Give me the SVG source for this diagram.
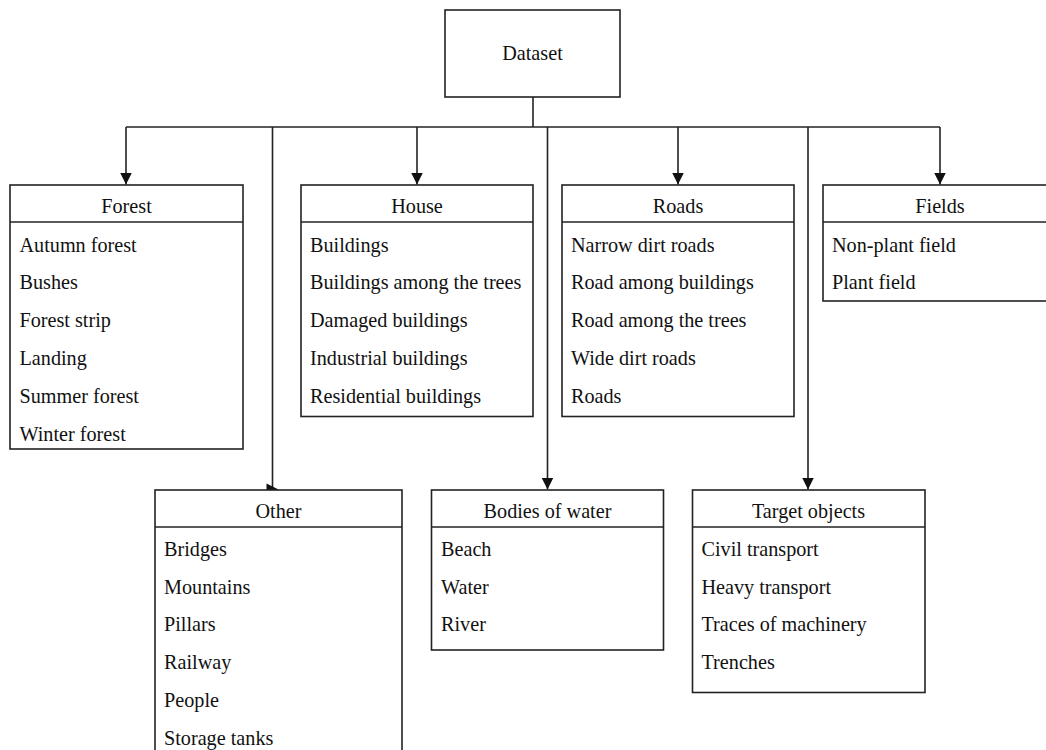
<svg xmlns="http://www.w3.org/2000/svg" width="1046" height="750" viewBox="0 0 1046 750">
<style>
.box{fill:#fff;stroke:#222;stroke-width:1.6}
.ln{fill:none;stroke:#222;stroke-width:1.6}
.hd{font-family:"Liberation Serif","Times New Roman",serif;font-size:20.2px;fill:#111;text-anchor:middle}
.it{font-family:"Liberation Serif","Times New Roman",serif;font-size:20.2px;fill:#111}
</style>
<defs>
<marker id="arr" viewBox="0 0 12 12" refX="12" refY="6" markerWidth="12" markerHeight="12" markerUnits="userSpaceOnUse" orient="auto">
<path d="M0,0 L12,6 L0,12 Z" fill="#111"/>
</marker>
</defs>
<rect width="1046" height="750" fill="#fff"/>
<g id="connectors">
<path class="ln" d="M533,97 V127"/>
<path class="ln" d="M126,127 H940"/>
<path class="ln" d="M126,127 V184.5" marker-end="url(#arr)"/>
<path class="ln" d="M417,127 V184.5" marker-end="url(#arr)"/>
<path class="ln" d="M678,127 V184.5" marker-end="url(#arr)"/>
<path class="ln" d="M940,127 V184.5" marker-end="url(#arr)"/>
<path class="ln" d="M547.5,127 V489.5" marker-end="url(#arr)"/>
<path class="ln" d="M808,127 V489.5" marker-end="url(#arr)"/>
<path class="ln" d="M272.5,127 V489.5"/>
<path d="M266.5,483.5 L278.5,489.5 L266.5,495.5 Z" fill="#111"/>
</g>
<g id="dataset">
<rect class="box" x="445" y="10" width="175" height="87"/>
<text class="hd" x="532.5" y="60">Dataset</text>
</g>
<g id="forest">
<rect class="box" x="10" y="185" width="233" height="264"/>
<path class="ln" d="M10,222 H243"/>
<text class="hd" x="126.5" y="213">Forest</text>
<text class="it" x="19.5" y="251.5">Autumn forest</text>
<text class="it" x="19.5" y="289.3">Bushes</text>
<text class="it" x="19.5" y="327.1">Forest strip</text>
<text class="it" x="19.5" y="364.9">Landing</text>
<text class="it" x="19.5" y="402.7">Summer forest</text>
<text class="it" x="19.5" y="440.5">Winter forest</text>
</g>
<g id="house">
<rect class="box" x="301" y="185" width="232" height="231.5"/>
<path class="ln" d="M301,222 H533"/>
<text class="hd" x="417" y="213">House</text>
<text class="it" x="310" y="251.5">Buildings</text>
<text class="it" x="310" y="289.3">Buildings among the trees</text>
<text class="it" x="310" y="327.1">Damaged buildings</text>
<text class="it" x="310" y="364.9">Industrial buildings</text>
<text class="it" x="310" y="402.7">Residential buildings</text>
</g>
<g id="roads">
<rect class="box" x="562" y="185" width="232" height="231.5"/>
<path class="ln" d="M562,222 H794"/>
<text class="hd" x="678" y="213">Roads</text>
<text class="it" x="571" y="251.5">Narrow dirt roads</text>
<text class="it" x="571" y="289.3">Road among buildings</text>
<text class="it" x="571" y="327.1">Road among the trees</text>
<text class="it" x="571" y="364.9">Wide dirt roads</text>
<text class="it" x="571" y="402.7">Roads</text>
</g>
<g id="fields">
<rect class="box" x="823" y="185" width="234" height="116"/>
<path class="ln" d="M823,222 H1057"/>
<text class="hd" x="940" y="213">Fields</text>
<text class="it" x="832" y="251.5">Non-plant field</text>
<text class="it" x="832" y="289.3">Plant field</text>
</g>
<g id="other">
<rect class="box" x="155" y="490" width="247" height="290"/>
<path class="ln" d="M155,527 H402"/>
<text class="hd" x="278.5" y="518">Other</text>
<text class="it" x="164" y="556">Bridges</text>
<text class="it" x="164" y="593.7">Mountains</text>
<text class="it" x="164" y="631.4">Pillars</text>
<text class="it" x="164" y="669.1">Railway</text>
<text class="it" x="164" y="706.8">People</text>
<text class="it" x="164" y="744.5">Storage tanks</text>
</g>
<g id="bodies-of-water">
<rect class="box" x="431.5" y="490" width="232" height="160"/>
<path class="ln" d="M431.5,527 H663.5"/>
<text class="hd" x="547.5" y="518">Bodies of water</text>
<text class="it" x="441" y="556">Beach</text>
<text class="it" x="441" y="593.7">Water</text>
<text class="it" x="441" y="631.4">River</text>
</g>
<g id="target-objects">
<rect class="box" x="692.5" y="490" width="232.5" height="202.5"/>
<path class="ln" d="M692.5,527 H925"/>
<text class="hd" x="808.5" y="518">Target objects</text>
<text class="it" x="701.5" y="556">Civil transport</text>
<text class="it" x="701.5" y="593.7">Heavy transport</text>
<text class="it" x="701.5" y="631.4">Traces of machinery</text>
<text class="it" x="701.5" y="669.1">Trenches</text>
</g>
</svg>
